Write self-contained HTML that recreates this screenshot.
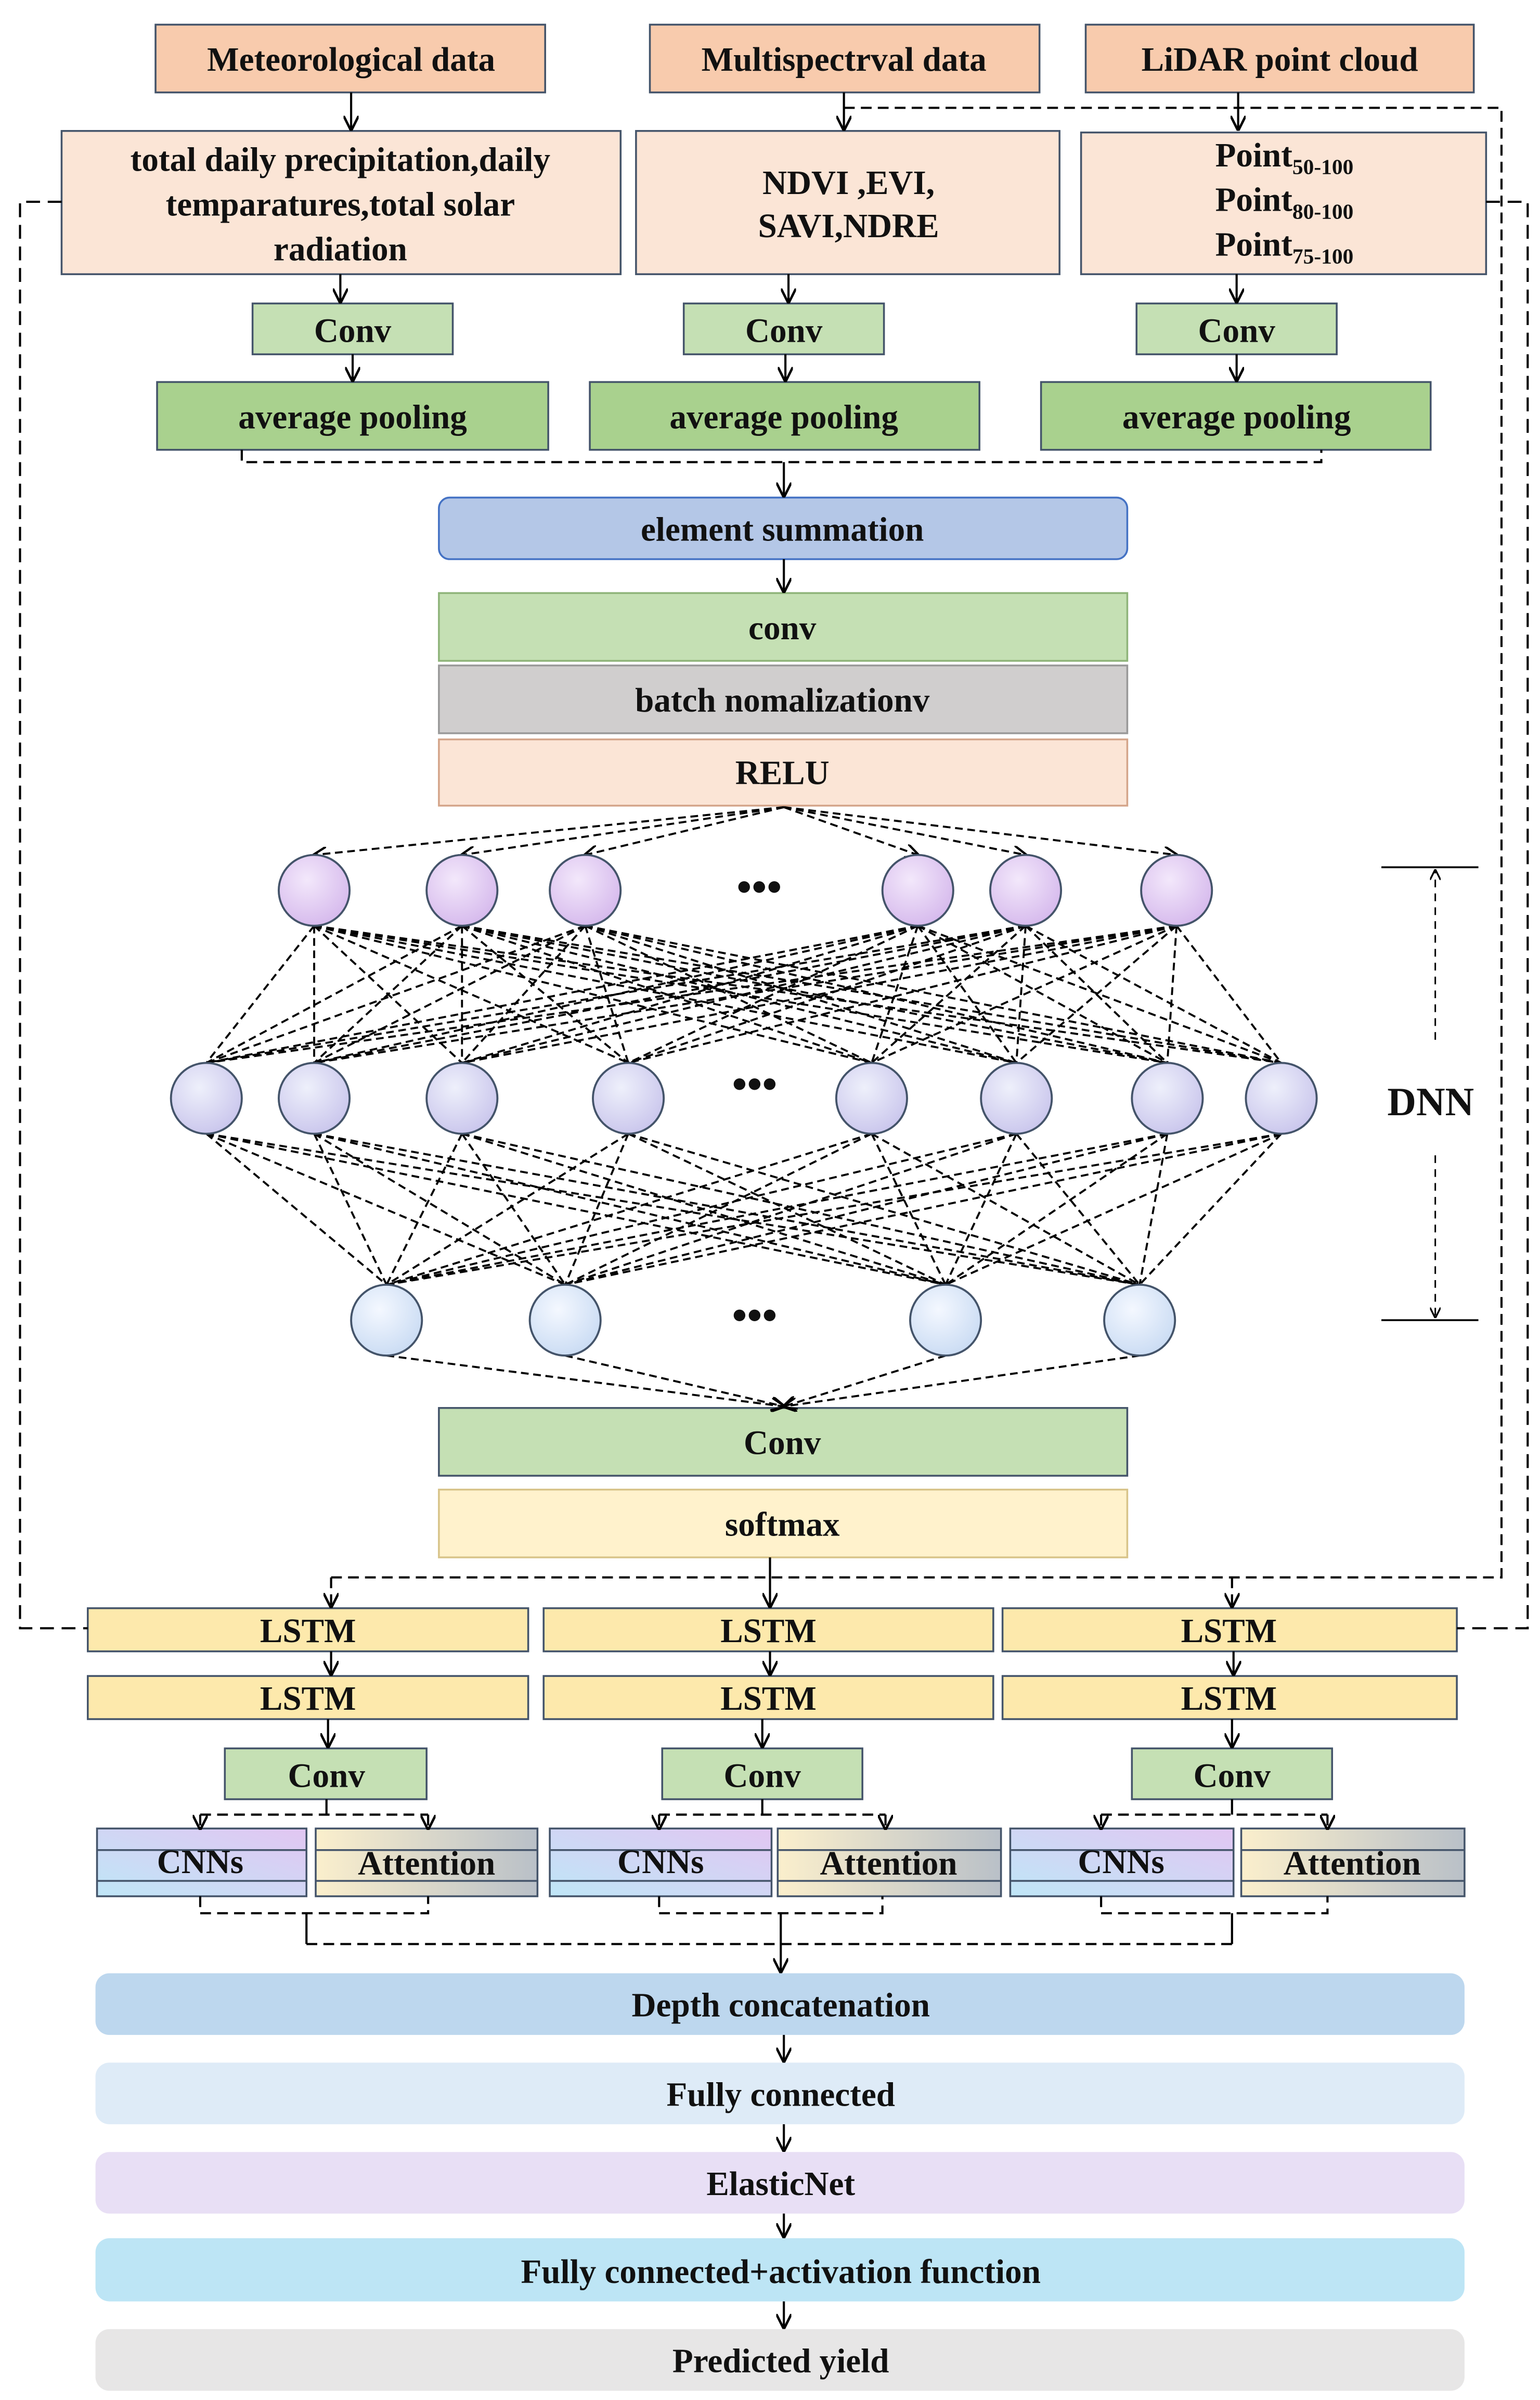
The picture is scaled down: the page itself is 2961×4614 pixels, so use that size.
<!DOCTYPE html>
<html><head><meta charset="utf-8"><style>
html,body{margin:0;padding:0;background:#fff;}
svg{display:block;}
text{font-family:"Liberation Serif",serif;font-weight:bold;fill:#111;}
</style></head><body>
<svg id="s" width="2961" height="4614" viewBox="0 0 1000 1558" preserveAspectRatio="none" xmlns="http://www.w3.org/2000/svg">
<defs>
<marker id="a" viewBox="0 0 10 10" refX="9" refY="5" markerWidth="7" markerHeight="7" orient="auto"><path d="M0,0 L10,5 L0,10" fill="none" stroke="#000" stroke-width="1.6"/></marker>
<radialGradient id="g1" cx="40%" cy="35%" r="70%"><stop offset="0" stop-color="#f3e8fb"/><stop offset="1" stop-color="#d5b8ec"/></radialGradient>
<radialGradient id="g2" cx="40%" cy="35%" r="70%"><stop offset="0" stop-color="#eef0fb"/><stop offset="1" stop-color="#c9c5ec"/></radialGradient>
<radialGradient id="g3" cx="40%" cy="35%" r="70%"><stop offset="0" stop-color="#f4f8ff"/><stop offset="1" stop-color="#c9dbf3"/></radialGradient>
<linearGradient id="gc" x1="0" y1="1" x2="1" y2="0"><stop offset="0" stop-color="#bfe6f7"/><stop offset="1" stop-color="#e2c6f2"/></linearGradient>
<linearGradient id="ga" x1="0" y1="0" x2="1" y2="0"><stop offset="0" stop-color="#fbefcc"/><stop offset="1" stop-color="#b9c0c8"/></linearGradient>
</defs>
<g stroke="#44546a" stroke-width="1.2">
<rect x="101" y="16" width="253" height="44" fill="#f8cbad"/>
<rect x="422" y="16" width="253" height="44" fill="#f8cbad"/>
<rect x="705" y="16" width="252" height="44" fill="#f8cbad"/>
<rect x="40" y="85" width="363" height="93" fill="#fbe5d6"/>
<rect x="413" y="85" width="275" height="93" fill="#fbe5d6"/>
<rect x="702" y="86" width="263" height="92" fill="#fbe5d6"/>
<rect x="164" y="197" width="130" height="33" fill="#c5e0b4"/>
<rect x="444" y="197" width="130" height="33" fill="#c5e0b4"/>
<rect x="738" y="197" width="130" height="33" fill="#c5e0b4"/>
<rect x="102" y="248" width="254" height="44" fill="#a9d18e"/>
<rect x="383" y="248" width="253" height="44" fill="#a9d18e"/>
<rect x="676" y="248" width="253" height="44" fill="#a9d18e"/>
<rect x="285" y="323" width="447" height="40" rx="7" fill="#b4c7e7" stroke="#4472c4"/>
<rect x="285" y="385" width="447" height="44" fill="#c5e0b4" stroke="#8fb47a"/>
<rect x="285" y="432" width="447" height="44" fill="#d0cece" stroke="#999"/>
<rect x="285" y="480" width="447" height="43" fill="#fbe5d6" stroke="#d4a58a"/>
<rect x="285" y="914" width="447" height="44" fill="#c5e0b4"/>
<rect x="285" y="967" width="447" height="44" fill="#fff2cc" stroke="#d8c48a"/>
<rect x="57" y="1044" width="286" height="28" fill="#fde9ac"/>
<rect x="353" y="1044" width="292" height="28" fill="#fde9ac"/>
<rect x="651" y="1044" width="295" height="28" fill="#fde9ac"/>
<rect x="57" y="1088" width="286" height="28" fill="#fde9ac"/>
<rect x="353" y="1088" width="292" height="28" fill="#fde9ac"/>
<rect x="651" y="1088" width="295" height="28" fill="#fde9ac"/>
<rect x="146" y="1135" width="131" height="33" fill="#c5e0b4"/>
<rect x="430" y="1135" width="130" height="33" fill="#c5e0b4"/>
<rect x="735" y="1135" width="130" height="33" fill="#c5e0b4"/>
<rect x="63" y="1187" width="136" height="44" fill="url(#gc)"/>
<rect x="357" y="1187" width="144" height="44" fill="url(#gc)"/>
<rect x="656" y="1187" width="145" height="44" fill="url(#gc)"/>
<rect x="205" y="1187" width="144" height="44" fill="url(#ga)"/>
<rect x="505" y="1187" width="145" height="44" fill="url(#ga)"/>
<rect x="806" y="1187" width="145" height="44" fill="url(#ga)"/>
<path d="M63,1201H199M63,1221H199M357,1201H501M357,1221H501M656,1201H801M656,1221H801M205,1201H349M205,1221H349M505,1201H650M505,1221H650M806,1201H951M806,1221H951" fill="none"/>
</g>
<g stroke="none">
<rect x="62" y="1281" width="889" height="40" rx="9" fill="#bdd7ee"/>
<rect x="62" y="1339" width="889" height="40" rx="9" fill="#deebf7"/>
<rect x="62" y="1397" width="889" height="40" rx="9" fill="#e8dff5"/>
<rect x="62" y="1453" width="889" height="41" rx="9" fill="#bde5f5"/>
<rect x="62" y="1512" width="889" height="40" rx="9" fill="#e7e6e6"/>
</g>
<g stroke="#000" stroke-width="1.4" fill="none">
<g marker-end="url(#a)">
<path d="M228,60V84"/><path d="M548,60V84"/><path d="M804,60V84"/>
<path d="M221,178V196"/><path d="M512,178V196"/><path d="M803,178V196"/>
<path d="M229,230V247"/><path d="M510,230V247"/><path d="M803,230V247"/>
<path d="M509,300V322"/><path d="M509,363V384"/>
<path d="M500,1011V1043"/>
<path d="M215,1072V1087"/><path d="M500,1072V1087"/><path d="M801,1072V1087"/>
<path d="M213,1116V1134"/><path d="M495,1116V1134"/><path d="M800,1116V1134"/>
<path d="M507,1262V1280"/><path d="M509,1321V1338"/><path d="M509,1379V1396"/><path d="M509,1437V1452"/><path d="M509,1494V1511"/>
</g>
<g stroke-dasharray="7,4">
<path d="M157,292V300H858V292"/>
<path d="M548,70H975V1024H215"/>
<path d="M215,1024V1043" marker-end="url(#a)"/><path d="M800,1024V1043" marker-end="url(#a)"/>
<path d="M40,131H13V1057H57M965,131H992V1057H946" stroke-dasharray="9,5"/>
<path d="M130,1178H278M428,1178H575M715,1178H862"/>
<g marker-end="url(#a)">
<path d="M130,1178V1187"/><path d="M278,1178V1187"/><path d="M428,1178V1187"/><path d="M575,1178V1187"/><path d="M715,1178V1187"/><path d="M862,1178V1187"/>
</g>
<path d="M130,1231V1242H278V1231M428,1231V1242H573V1231M715,1231V1242H862V1231M199,1262H800"/>
<path d="M932,675V565" stroke-dasharray="5,4" stroke-width="1" marker-end="url(#a)"/>
<path d="M932,750V855" stroke-dasharray="5,4" stroke-width="1" marker-end="url(#a)"/>
</g>
<path d="M212,1168V1178M495,1168V1178M800,1168V1178M199,1242V1262M507,1242V1262M800,1242V1262"/>
<path d="M897,563H960M897,857H960" stroke-width="1.2"/>
</g>
<g id="nn"></g>
<g font-size="22" text-anchor="middle">
<text x="228" y="46">Meteorological data</text>
<text x="548" y="46">Multispectrval data</text>
<text x="831" y="46">LiDAR point cloud</text>
<text x="221" y="111">total daily precipitation,daily</text>
<text x="221" y="140">temparatures,total solar</text>
<text x="221" y="169">radiation</text>
<text x="551" y="126">NDVI ,EVI,</text>
<text x="551" y="154">SAVI,NDRE</text>
<text x="834" y="108">Point<tspan font-size="14" dy="5">50-100</tspan></text>
<text x="834" y="137">Point<tspan font-size="14" dy="5">80-100</tspan></text>
<text x="834" y="166">Point<tspan font-size="14" dy="5">75-100</tspan></text>
<text x="229" y="222">Conv</text><text x="509" y="222">Conv</text><text x="803" y="222">Conv</text>
<text x="229" y="278">average pooling</text><text x="509" y="278">average pooling</text><text x="803" y="278">average pooling</text>
<text x="508" y="351">element summation</text>
<text x="508" y="415">conv</text>
<text x="508" y="462">batch nomalizationv</text>
<text x="508" y="509">RELU</text>
<text x="508" y="944">Conv</text>
<text x="508" y="997">softmax</text>
<text x="929" y="724" font-size="26">DNN</text>
<text x="200" y="1066">LSTM</text><text x="499" y="1066">LSTM</text><text x="798" y="1066">LSTM</text>
<text x="200" y="1110">LSTM</text><text x="499" y="1110">LSTM</text><text x="798" y="1110">LSTM</text>
<text x="212" y="1160">Conv</text><text x="495" y="1160">Conv</text><text x="800" y="1160">Conv</text>
<text x="130" y="1216">CNNs</text><text x="277" y="1217">Attention</text>
<text x="429" y="1216">CNNs</text><text x="577" y="1217">Attention</text>
<text x="728" y="1216">CNNs</text><text x="878" y="1217">Attention</text>
<text x="507" y="1309">Depth concatenation</text>
<text x="507" y="1367">Fully connected</text>
<text x="507" y="1425">ElasticNet</text>
<text x="507" y="1482">Fully connected+activation function</text>
<text x="507" y="1540">Predicted yield</text>
<text x="493" y="585" font-size="28">•••</text>
<text x="490" y="713" font-size="28">•••</text>
<text x="490" y="863" font-size="28">•••</text>
</g>
</svg>
<script>
(function(){
var ns="http://www.w3.org/2000/svg",g=document.getElementById("nn"),r=23;
var L1=[204,300,380,596,666,764].map(function(x){return[x,578]});
var L2=[134,204,300,408,566,660,758,832].map(function(x){return[x,713]});
var L3=[251,367,614,740].map(function(x){return[x,857]});
function ln(x1,y1,x2,y2,arrow){var l=document.createElementNS(ns,"line");l.setAttribute("x1",x1);l.setAttribute("y1",y1);l.setAttribute("x2",x2);l.setAttribute("y2",y2);l.setAttribute("stroke","#000");l.setAttribute("stroke-width","1.3");l.setAttribute("stroke-dasharray","5,3");if(arrow)l.setAttribute("marker-end","url(#a)");g.appendChild(l);}
L1.forEach(function(p){ln(509,524,p[0],p[1]-r,1);});
L1.forEach(function(a){L2.forEach(function(b){ln(a[0],a[1]+r,b[0],b[1]-r);});});
L2.forEach(function(a){L3.forEach(function(b){ln(a[0],a[1]+r,b[0],b[1]-r);});});
L3.forEach(function(p){ln(p[0],p[1]+r,509,913,1);});
function c(p,f){var e=document.createElementNS(ns,"circle");e.setAttribute("cx",p[0]);e.setAttribute("cy",p[1]);e.setAttribute("r",r);e.setAttribute("fill",f);e.setAttribute("stroke","#44546a");e.setAttribute("stroke-width","1.3");g.appendChild(e);}
L1.forEach(function(p){c(p,"url(#g1)")});L2.forEach(function(p){c(p,"url(#g2)")});L3.forEach(function(p){c(p,"url(#g3)")});
})();
</script>
</body></html>
